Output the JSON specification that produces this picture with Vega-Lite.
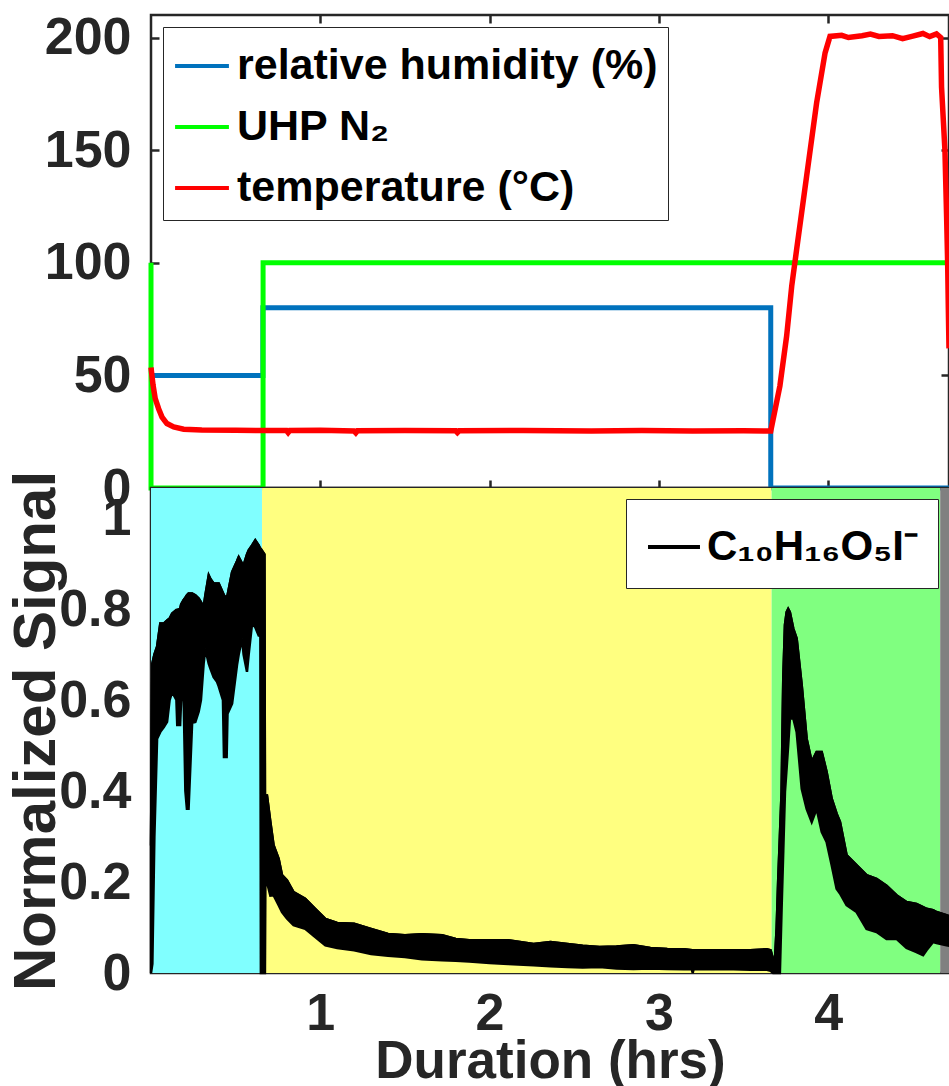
{
  "$schema": "https://vega.github.io/schema/vega-lite/v6.json",
  "padding": {"left": 5, "top": 10, "right": 0, "bottom": 0},
  "autosize": {"type": "pad"},
  "background": "white",
  "spacing": 0,
  "bounds": "flush",
  "config": {
    "font": "Liberation Sans",
    "view": {"stroke": "#262626", "strokeWidth": 2.5},
    "axis": {
      "labelFont": "Liberation Sans", "labelFontWeight": "bold", "labelColor": "#262626",
      "titleFont": "Liberation Sans", "titleFontWeight": "bold", "titleColor": "#262626",
      "grid": false, "domain": false, "tickColor": "#262626", "tickWidth": 2.5
    },
    "legend": {
      "labelFont": "Liberation Sans", "labelFontWeight": "bold", "labelColor": "black",
      "labelLimit": 800, "strokeColor": "#262626", "fillColor": "white", "cornerRadius": 0,
      "symbolType": "stroke", "symbolStrokeWidth": 4
    }
  },
  "datasets": {
    "top": [
      {"s": "relative humidity (%)", "t": 0, "v": 50},
      {"s": "relative humidity (%)", "t": 0.661, "v": 50},
      {"s": "relative humidity (%)", "t": 0.6611, "v": 80},
      {"s": "relative humidity (%)", "t": 3.661, "v": 80},
      {"s": "relative humidity (%)", "t": 3.6611, "v": 0},
      {"s": "relative humidity (%)", "t": 4.714, "v": 0},
      {"s": "UHP N₂", "t": 0, "v": 100},
      {"s": "UHP N₂", "t": 0.0001, "v": 0},
      {"s": "UHP N₂", "t": 0.662, "v": 0},
      {"s": "UHP N₂", "t": 0.6621, "v": 100},
      {"s": "UHP N₂", "t": 4.714, "v": 100},
      {"s": "temperature (°C)", "t": 0, "v": 53.5},
      {"s": "temperature (°C)", "t": 0.012, "v": 45.7},
      {"s": "temperature (°C)", "t": 0.025, "v": 39.7},
      {"s": "temperature (°C)", "t": 0.045, "v": 35.2},
      {"s": "temperature (°C)", "t": 0.065, "v": 31.5},
      {"s": "temperature (°C)", "t": 0.094, "v": 28.6},
      {"s": "temperature (°C)", "t": 0.134, "v": 27.1},
      {"s": "temperature (°C)", "t": 0.193, "v": 26.1},
      {"s": "temperature (°C)", "t": 0.3, "v": 25.8},
      {"s": "temperature (°C)", "t": 0.5, "v": 25.6},
      {"s": "temperature (°C)", "t": 0.8, "v": 25.5},
      {"s": "temperature (°C)", "t": 0.81, "v": 24.6},
      {"s": "temperature (°C)", "t": 0.82, "v": 25.5},
      {"s": "temperature (°C)", "t": 1.0, "v": 25.6},
      {"s": "temperature (°C)", "t": 1.2, "v": 25.3},
      {"s": "temperature (°C)", "t": 1.21, "v": 24.5},
      {"s": "temperature (°C)", "t": 1.22, "v": 25.4},
      {"s": "temperature (°C)", "t": 1.5, "v": 25.5},
      {"s": "temperature (°C)", "t": 1.8, "v": 25.4},
      {"s": "temperature (°C)", "t": 1.81, "v": 24.6},
      {"s": "temperature (°C)", "t": 1.82, "v": 25.4},
      {"s": "temperature (°C)", "t": 2.2, "v": 25.5},
      {"s": "temperature (°C)", "t": 2.6, "v": 25.3},
      {"s": "temperature (°C)", "t": 2.9, "v": 25.5},
      {"s": "temperature (°C)", "t": 3.2, "v": 25.3},
      {"s": "temperature (°C)", "t": 3.5, "v": 25.4},
      {"s": "temperature (°C)", "t": 3.661, "v": 25.3},
      {"s": "temperature (°C)", "t": 3.715, "v": 45.3},
      {"s": "temperature (°C)", "t": 3.755, "v": 67.5},
      {"s": "temperature (°C)", "t": 3.785, "v": 89.7},
      {"s": "temperature (°C)", "t": 3.814, "v": 105.9},
      {"s": "temperature (°C)", "t": 3.873, "v": 138.5},
      {"s": "temperature (°C)", "t": 3.932, "v": 171},
      {"s": "temperature (°C)", "t": 3.982, "v": 193.2},
      {"s": "temperature (°C)", "t": 4.011, "v": 200.5},
      {"s": "temperature (°C)", "t": 4.08, "v": 201},
      {"s": "temperature (°C)", "t": 4.12, "v": 200},
      {"s": "temperature (°C)", "t": 4.2, "v": 200.8},
      {"s": "temperature (°C)", "t": 4.25, "v": 201.5},
      {"s": "temperature (°C)", "t": 4.3, "v": 200.5},
      {"s": "temperature (°C)", "t": 4.38, "v": 200.8},
      {"s": "temperature (°C)", "t": 4.44, "v": 199.5},
      {"s": "temperature (°C)", "t": 4.5, "v": 200.6},
      {"s": "temperature (°C)", "t": 4.56, "v": 201.8},
      {"s": "temperature (°C)", "t": 4.6, "v": 200.4},
      {"s": "temperature (°C)", "t": 4.64, "v": 201.6},
      {"s": "temperature (°C)", "t": 4.665, "v": 200},
      {"s": "temperature (°C)", "t": 4.67, "v": 178},
      {"s": "temperature (°C)", "t": 4.69, "v": 150},
      {"s": "temperature (°C)", "t": 4.7, "v": 120},
      {"s": "temperature (°C)", "t": 4.706, "v": 100},
      {"s": "temperature (°C)", "t": 4.71, "v": 80},
      {"s": "temperature (°C)", "t": 4.714, "v": 62}
    ],
    "bg": [
      {"phase": "RH 50%", "t": 0, "t2": 0.656},
      {"phase": "RH 80%", "t": 0.656, "t2": 3.666},
      {"phase": "heating", "t": 3.666, "t2": 4.662},
      {"phase": "cooling", "t": 4.662, "t2": 4.714}
    ],
    "sig": [
      {"t": 0.000, "lo": 0.00, "hi": 0.28},
      {"t": 0.008, "lo": 0.02, "hi": 0.68},
      {"t": 0.020, "lo": 0.30, "hi": 0.70},
      {"t": 0.036, "lo": 0.515, "hi": 0.717},
      {"t": 0.055, "lo": 0.53, "hi": 0.768},
      {"t": 0.075, "lo": 0.54, "hi": 0.768},
      {"t": 0.095, "lo": 0.552, "hi": 0.775},
      {"t": 0.110, "lo": 0.60, "hi": 0.779},
      {"t": 0.125, "lo": 0.618, "hi": 0.79},
      {"t": 0.150, "lo": 0.60, "hi": 0.798},
      {"t": 0.155, "lo": 0.545, "hi": 0.798},
      {"t": 0.172, "lo": 0.545, "hi": 0.80},
      {"t": 0.178, "lo": 0.60, "hi": 0.81},
      {"t": 0.193, "lo": 0.60, "hi": 0.82},
      {"t": 0.203, "lo": 0.40, "hi": 0.825},
      {"t": 0.212, "lo": 0.361, "hi": 0.83},
      {"t": 0.222, "lo": 0.361, "hi": 0.834},
      {"t": 0.232, "lo": 0.45, "hi": 0.834},
      {"t": 0.243, "lo": 0.55, "hi": 0.834},
      {"t": 0.262, "lo": 0.552, "hi": 0.83},
      {"t": 0.282, "lo": 0.575, "hi": 0.823},
      {"t": 0.295, "lo": 0.60, "hi": 0.815},
      {"t": 0.311, "lo": 0.68, "hi": 0.804},
      {"t": 0.321, "lo": 0.713, "hi": 0.83},
      {"t": 0.341, "lo": 0.68, "hi": 0.874},
      {"t": 0.351, "lo": 0.669, "hi": 0.866},
      {"t": 0.370, "lo": 0.65, "hi": 0.856},
      {"t": 0.390, "lo": 0.64, "hi": 0.856},
      {"t": 0.400, "lo": 0.63, "hi": 0.856},
      {"t": 0.425, "lo": 0.60, "hi": 0.835},
      {"t": 0.431, "lo": 0.475, "hi": 0.83},
      {"t": 0.447, "lo": 0.475, "hi": 0.823},
      {"t": 0.452, "lo": 0.57, "hi": 0.83},
      {"t": 0.479, "lo": 0.592, "hi": 0.881},
      {"t": 0.508, "lo": 0.677, "hi": 0.905},
      {"t": 0.518, "lo": 0.70, "hi": 0.914},
      {"t": 0.538, "lo": 0.735, "hi": 0.90},
      {"t": 0.547, "lo": 0.70, "hi": 0.896},
      {"t": 0.567, "lo": 0.662, "hi": 0.92},
      {"t": 0.577, "lo": 0.70, "hi": 0.929},
      {"t": 0.597, "lo": 0.768, "hi": 0.94},
      {"t": 0.616, "lo": 0.76, "hi": 0.951},
      {"t": 0.636, "lo": 0.742, "hi": 0.94},
      {"t": 0.646, "lo": 0.742, "hi": 0.932},
      {"t": 0.649, "lo": 0.0, "hi": 0.932},
      {"t": 0.670, "lo": 0.0, "hi": 0.92},
      {"t": 0.673, "lo": 0.0, "hi": 0.39},
      {"t": 0.676, "lo": 0.22, "hi": 0.39},
      {"t": 0.685, "lo": 0.20, "hi": 0.39},
      {"t": 0.705, "lo": 0.17, "hi": 0.332},
      {"t": 0.724, "lo": 0.171, "hi": 0.281},
      {"t": 0.754, "lo": 0.149, "hi": 0.251},
      {"t": 0.774, "lo": 0.134, "hi": 0.215},
      {"t": 0.803, "lo": 0.12, "hi": 0.204},
      {"t": 0.842, "lo": 0.105, "hi": 0.178},
      {"t": 0.911, "lo": 0.097, "hi": 0.163},
      {"t": 0.970, "lo": 0.079, "hi": 0.141},
      {"t": 1.03, "lo": 0.061, "hi": 0.119},
      {"t": 1.10, "lo": 0.055, "hi": 0.110},
      {"t": 1.20, "lo": 0.05, "hi": 0.108},
      {"t": 1.30, "lo": 0.042, "hi": 0.097},
      {"t": 1.40, "lo": 0.038, "hi": 0.086},
      {"t": 1.50, "lo": 0.035, "hi": 0.083},
      {"t": 1.60, "lo": 0.03, "hi": 0.085},
      {"t": 1.72, "lo": 0.028, "hi": 0.083},
      {"t": 1.80, "lo": 0.027, "hi": 0.075},
      {"t": 1.88, "lo": 0.025, "hi": 0.072},
      {"t": 2.00, "lo": 0.022, "hi": 0.072},
      {"t": 2.11, "lo": 0.020, "hi": 0.072},
      {"t": 2.26, "lo": 0.017, "hi": 0.064},
      {"t": 2.36, "lo": 0.015, "hi": 0.068},
      {"t": 2.46, "lo": 0.013, "hi": 0.064},
      {"t": 2.55, "lo": 0.012, "hi": 0.060},
      {"t": 2.65, "lo": 0.013, "hi": 0.057},
      {"t": 2.75, "lo": 0.010, "hi": 0.058},
      {"t": 2.85, "lo": 0.009, "hi": 0.061},
      {"t": 2.95, "lo": 0.010, "hi": 0.055},
      {"t": 3.05, "lo": 0.009, "hi": 0.053},
      {"t": 3.15, "lo": 0.008, "hi": 0.052},
      {"t": 3.195, "lo": 0.008, "hi": 0.050},
      {"t": 3.20, "lo": 0.0, "hi": 0.048},
      {"t": 3.205, "lo": 0.008, "hi": 0.050},
      {"t": 3.30, "lo": 0.008, "hi": 0.050},
      {"t": 3.44, "lo": 0.008, "hi": 0.050},
      {"t": 3.54, "lo": 0.007, "hi": 0.050},
      {"t": 3.638, "lo": 0.007, "hi": 0.052},
      {"t": 3.660, "lo": 0.005, "hi": 0.05},
      {"t": 3.675, "lo": 0.0, "hi": 0.03},
      {"t": 3.686, "lo": 0.0, "hi": 0.03},
      {"t": 3.696, "lo": 0.0, "hi": 0.10},
      {"t": 3.705, "lo": 0.0, "hi": 0.204},
      {"t": 3.715, "lo": 0.0, "hi": 0.30},
      {"t": 3.725, "lo": 0.139, "hi": 0.398},
      {"t": 3.735, "lo": 0.268, "hi": 0.647},
      {"t": 3.745, "lo": 0.398, "hi": 0.765},
      {"t": 3.755, "lo": 0.451, "hi": 0.793},
      {"t": 3.764, "lo": 0.50, "hi": 0.80},
      {"t": 3.774, "lo": 0.559, "hi": 0.793},
      {"t": 3.794, "lo": 0.56, "hi": 0.757},
      {"t": 3.814, "lo": 0.53, "hi": 0.735},
      {"t": 3.844, "lo": 0.405, "hi": 0.632},
      {"t": 3.873, "lo": 0.361, "hi": 0.515},
      {"t": 3.903, "lo": 0.332, "hi": 0.464},
      {"t": 3.932, "lo": 0.361, "hi": 0.486},
      {"t": 3.962, "lo": 0.31, "hi": 0.486},
      {"t": 3.991, "lo": 0.288, "hi": 0.442},
      {"t": 4.021, "lo": 0.237, "hi": 0.383},
      {"t": 4.050, "lo": 0.185, "hi": 0.35},
      {"t": 4.070, "lo": 0.175, "hi": 0.332},
      {"t": 4.109, "lo": 0.149, "hi": 0.259},
      {"t": 4.168, "lo": 0.134, "hi": 0.237},
      {"t": 4.227, "lo": 0.097, "hi": 0.215},
      {"t": 4.286, "lo": 0.09, "hi": 0.207},
      {"t": 4.345, "lo": 0.075, "hi": 0.192},
      {"t": 4.404, "lo": 0.075, "hi": 0.171},
      {"t": 4.463, "lo": 0.055, "hi": 0.156},
      {"t": 4.522, "lo": 0.046, "hi": 0.152},
      {"t": 4.561, "lo": 0.039, "hi": 0.145},
      {"t": 4.581, "lo": 0.05, "hi": 0.141},
      {"t": 4.620, "lo": 0.068, "hi": 0.138},
      {"t": 4.640, "lo": 0.066, "hi": 0.134},
      {"t": 4.699, "lo": 0.061, "hi": 0.127},
      {"t": 4.714, "lo": 0.06, "hi": 0.125}
    ]
  },
  "resolve": {"scale": {"color": "independent"}, "legend": {"color": "independent"}},
  "vconcat": [
    {
      "width": 798,
      "height": 473,
      "data": {"name": "top"},
      "resolve": {"axis": {"x": "independent", "y": "independent"}},
      "layer": [
        {
          "transform": [{"filter": "datum.s === 'relative humidity (%)'"}],
          "mark": {"type": "line", "strokeWidth": 5, "strokeCap": "butt"},
          "encoding": {
            "x": {"field": "t", "type": "quantitative", "scale": {"domain": [0, 4.714], "nice": false, "zero": false},
                  "axis": {"orient": "bottom", "values": [1, 2, 3, 4], "labels": false, "ticks": true, "tickSize": 8, "offset": -8, "title": null}},
            "y": {"field": "v", "type": "quantitative", "scale": {"domain": [0, 210], "nice": false},
                  "axis": {"orient": "left", "values": [0, 50, 100, 150, 200], "ticks": true, "tickSize": 8, "offset": -8, "labelPadding": 20, "labelFontSize": 52, "title": null}},
            "color": {"field": "s", "type": "nominal",
                      "scale": {"domain": ["relative humidity (%)", "UHP N₂", "temperature (°C)"], "range": ["#0072BD", "#00FF00", "#FF0000"]},
                      "legend": {"orient": "top-left", "offset": 12, "title": null, "labelFontSize": 43, "symbolSize": 2900, "padding": 10, "rowPadding": 10, "labelOffset": 6}}
          }
        },
        {
          "transform": [{"filter": "datum.s === 'UHP N₂'"}],
          "mark": {"type": "line", "strokeWidth": 5, "strokeCap": "butt"},
          "encoding": {
            "x": {"field": "t", "type": "quantitative", "scale": {"domain": [0, 4.714], "nice": false, "zero": false},
                  "axis": {"orient": "top", "values": [1, 2, 3, 4], "labels": false, "ticks": true, "tickSize": 8, "offset": -8, "title": null}},
            "y": {"field": "v", "type": "quantitative", "scale": {"domain": [0, 210], "nice": false},
                  "axis": {"orient": "right", "values": [0, 50, 100, 150, 200], "labels": false, "ticks": true, "tickSize": 8, "offset": -8, "title": null}},
            "color": {"field": "s", "type": "nominal"}
          }
        },
        {
          "transform": [{"filter": "datum.s === 'temperature (°C)'"}],
          "mark": {"type": "line", "strokeWidth": 5.5, "strokeCap": "butt"},
          "encoding": {
            "x": {"field": "t", "type": "quantitative", "scale": {"domain": [0, 4.714], "nice": false, "zero": false}, "axis": null},
            "y": {"field": "v", "type": "quantitative", "scale": {"domain": [0, 210], "nice": false}, "axis": null},
            "color": {"field": "s", "type": "nominal"}
          }
        }
      ]
    },
    {
      "width": 798,
      "height": 485,
      "encoding": {
        "x": {"field": "t", "type": "quantitative", "scale": {"domain": [0, 4.714], "nice": false, "zero": false},
              "axis": {"values": [1, 2, 3, 4], "ticks": false, "labelFontSize": 52, "labelPadding": 15, "title": "Duration (hrs)", "titleFontSize": 53, "titlePadding": -4}}
      },
      "layer": [
        {
          "data": {"name": "bg"},
          "mark": {"type": "rect"},
          "encoding": {
            "x2": {"field": "t2"},
            "fill": {"field": "phase", "type": "nominal",
                     "scale": {"domain": ["RH 50%", "RH 80%", "heating", "cooling"], "range": ["#80FFFF", "#FFFF80", "#80FF80", "#808080"]},
                     "legend": null}
          }
        },
        {
          "data": {"name": "sig"},
          "mark": {"type": "area", "color": "black", "stroke": "black", "strokeWidth": 2.5},
          "encoding": {
            "y": {"field": "lo", "type": "quantitative", "scale": {"domain": [0, 1.066], "nice": false},
                  "axis": {"values": [0, 0.2, 0.4, 0.6, 0.8, 1], "format": "~g", "ticks": false, "labelFontSize": 52, "labelPadding": 20, "title": "Normalized Signal", "titleFontSize": 60, "titlePadding": 4, "titleBaseline": "alphabetic"}},
            "y2": {"field": "hi"}
          }
        },
        {
          "data": {"name": "sig"},
          "mark": {"type": "line", "strokeWidth": 2.5},
          "encoding": {
            "y": {"field": "hi", "type": "quantitative", "scale": {"domain": [0, 1.066], "nice": false},
                  "axis": {"values": [0, 0.2, 0.4, 0.6, 0.8, 1], "format": "~g", "ticks": false, "labelFontSize": 52, "labelPadding": 20, "title": "Normalized Signal", "titleFontSize": 60, "titlePadding": 4, "titleBaseline": "alphabetic"}},
            "color": {"datum": "C₁₀H₁₆O₅I⁻", "type": "nominal", "scale": {"range": ["black"]},
                      "legend": {"orient": "top-right", "offset": 11, "title": null, "labelFontSize": 42, "symbolSize": 2700, "padding": 20, "labelOffset": 5}}
          }
        }
      ]
    }
  ]
}
